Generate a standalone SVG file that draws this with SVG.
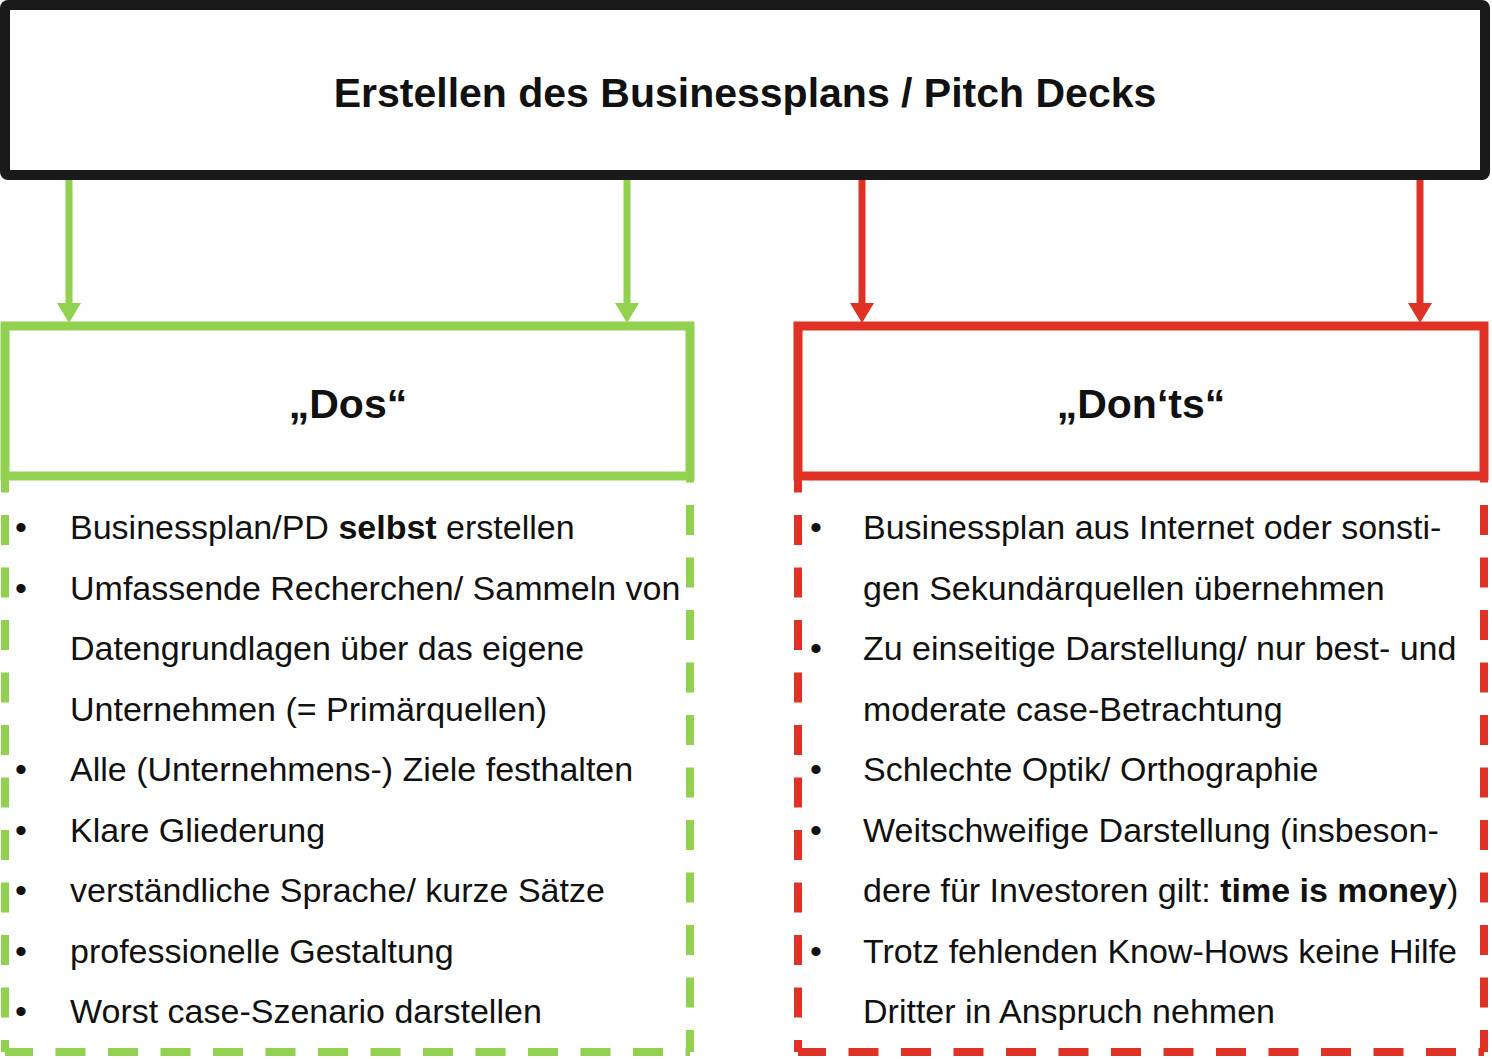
<svg xmlns="http://www.w3.org/2000/svg" width="1492" height="1059" viewBox="0 0 1492 1059">
<style>
.t{font-family:"Liberation Sans",Arial,sans-serif;fill:#111;}
.h{font-size:41px;font-weight:bold;text-anchor:middle;}
.b{font-size:34px;}
.bl{font-size:34px;text-anchor:middle;}
.g{stroke:#92d050;}
.r{stroke:#e03224;}
.solid{fill:none;stroke-width:9;}
.dash{fill:none;stroke-width:8;stroke-dasharray:30 22.5;}
.arr{stroke-width:7;fill:none;}
</style>
<defs>
<marker id="ag" markerUnits="userSpaceOnUse" viewBox="0 0 20 24" markerWidth="20" markerHeight="24" refX="1" refY="12" orient="auto"><path d="M0,0 L20,12 L0,24 z" fill="#92d050"/></marker>
<marker id="ar" markerUnits="userSpaceOnUse" viewBox="0 0 20 24" markerWidth="20" markerHeight="24" refX="1" refY="12" orient="auto"><path d="M0,0 L20,12 L0,24 z" fill="#e03224"/></marker>
</defs>
<rect width="1492" height="1059" fill="#fff"/>
<g id="connectors">
<line class="arr g" x1="69" y1="178" x2="69" y2="304" marker-end="url(#ag)"/>
<line class="arr g" x1="627" y1="178" x2="627" y2="304" marker-end="url(#ag)"/>
<line class="arr r" x1="862" y1="178" x2="862" y2="304" marker-end="url(#ar)"/>
<line class="arr r" x1="1420" y1="178" x2="1420" y2="304" marker-end="url(#ar)"/>
</g>
<g id="top">
<rect x="5" y="5" width="1480" height="170" rx="3" fill="#fff" stroke="#1a1a1a" stroke-width="10"/>
<text class="t h" x="745" y="107">Erstellen des Businessplans / Pitch Decks</text>
</g>
<g id="dos">
<rect class="solid g" x="5" y="326" width="685" height="150"/>
<text class="t h" x="348" y="418">„Dos“</text>
</g>
<g id="donts">
<rect class="solid r" x="798" y="326" width="686" height="150"/>
<text class="t h" x="1141" y="418">„Don‘ts“</text>
</g>
<g id="dos-list">
<path class="dash g" d="M5,476 V1052" stroke-dashoffset="13.5"/>
<path class="dash g" d="M5,1052 H690" stroke-dashoffset="2"/>
<path class="dash g" d="M690,1052 V476" stroke-dashoffset="8"/>
<g class="t">
<text class="bl" x="21" y="539">•</text>
<text class="b" x="70" y="539">Businessplan/PD <tspan font-weight="bold">selbst</tspan> erstellen</text>
<text class="bl" x="21" y="599.5">•</text>
<text class="b" x="70" y="599.5">Umfassende Recherchen/ Sammeln von</text>
<text class="b" x="70" y="660">Datengrundlagen über das eigene</text>
<text class="b" x="70" y="720.5">Unternehmen (= Primärquellen)</text>
<text class="bl" x="21" y="781">•</text>
<text class="b" x="70" y="781">Alle (Unternehmens-) Ziele festhalten</text>
<text class="bl" x="21" y="841.5">•</text>
<text class="b" x="70" y="841.5">Klare Gliederung</text>
<text class="bl" x="21" y="902">•</text>
<text class="b" x="70" y="902">verständliche Sprache/ kurze Sätze</text>
<text class="bl" x="21" y="962.5">•</text>
<text class="b" x="70" y="962.5">professionelle Gestaltung</text>
<text class="bl" x="21" y="1023">•</text>
<text class="b" x="70" y="1023">Worst case-Szenario darstellen</text>
</g>
</g>
<g id="donts-list">
<path class="dash r" d="M798,476 V1052" stroke-dashoffset="13.5"/>
<path class="dash r" d="M798,1052 H1484" stroke-dashoffset="2"/>
<path class="dash r" d="M1484,1052 V476" stroke-dashoffset="8"/>
<g class="t">
<text class="bl" x="816" y="539">•</text>
<text class="b" x="863" y="539">Businessplan aus Internet oder sonsti-</text>
<text class="b" x="863" y="599.5">gen Sekundärquellen übernehmen</text>
<text class="bl" x="816" y="660">•</text>
<text class="b" x="863" y="660">Zu einseitige Darstellung/ nur best- und</text>
<text class="b" x="863" y="720.5">moderate case-Betrachtung</text>
<text class="bl" x="816" y="781">•</text>
<text class="b" x="863" y="781">Schlechte Optik/ Orthographie</text>
<text class="bl" x="816" y="841.5">•</text>
<text class="b" x="863" y="841.5">Weitschweifige Darstellung (insbeson-</text>
<text class="b" x="863" y="902">dere für Investoren gilt: <tspan font-weight="bold">time is money</tspan>)</text>
<text class="bl" x="816" y="962.5">•</text>
<text class="b" x="863" y="962.5">Trotz fehlenden Know-Hows keine Hilfe</text>
<text class="b" x="863" y="1023">Dritter in Anspruch nehmen</text>
</g>
</g>
</svg>
